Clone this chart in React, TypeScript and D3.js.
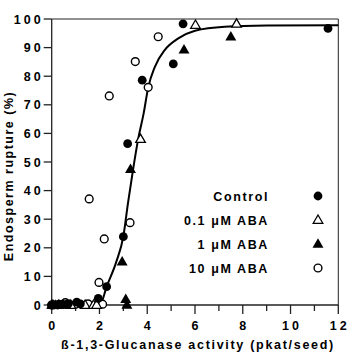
import * as d3 from 'd3'

// [activity (pkat/seed), rupture (%)]
const control: [number, number][] = [
  [0, 0], [0.1, 0], [0.25, 0], [0.45, 0.3], [0.7, 0.5], [1.05, 1], [1.2, 0.4],
  [1.95, 2.3], [2.3, 6.4], [3.0, 23.9], [3.18, 56.4], [3.79, 78.6], [5.09, 84.3],
  [5.5, 98.3], [11.57, 96.7],
]
const aba01: [number, number][] = [
  [0.05, 0], [0.3, 0], [0.8, 0], [1.4, 0], [1.75, 0], [1.88, 0], [3.72, 58],
  [6.02, 97.9], [7.74, 98.3],
]
const aba1: [number, number][] = [
  [0, 0], [0.15, 0], [0.6, 0], [2.95, 15.1], [3.1, 2.0], [3.15, 0], [3.3, 47.4],
  [5.54, 89.2], [7.5, 93.8],
]
const aba10: [number, number][] = [
  [0, 0], [0.3, 0.2], [0.57, 0.8], [1.0, 0.3], [1.52, 0.4], [1.57, 37.1], [1.98, 7.9],
  [2.13, 0.3], [2.2, 23.1], [2.41, 73.1], [3.28, 28.8], [3.5, 85.1], [4.04, 76.1],
  [4.46, 93.8],
]
// fitted curve, traced
const fitX = [0, 1.8, 2.05, 2.3, 2.7, 3.0, 3.2, 3.4, 3.62, 3.85, 4.04, 4.32, 4.74, 5.3, 6.0, 7.25, 9, 12]
const fitY = [0, 0, 0.5, 6.4, 15, 24, 36, 47, 58, 67, 76, 83.3, 89.2, 93.2, 95.9, 97.3, 97.7, 97.8]

const legendLabels = ['Control', '0.1 μM ABA', '1 μM ABA', '10 μM ABA']
const xTicks = d3.range(0, 13, 1)
const yTicks = d3.range(0, 101, 10)

const font = '"Liberation Sans", Arial, sans-serif'

type Kind = 'fc' | 'ot' | 'ft' | 'oc'

function Marker({ kind, x, y }: { kind: Kind; x: number; y: number }) {
  if (kind === 'fc' || kind === 'oc') {
    return (
      <circle cx={x} cy={y} r={kind === 'fc' ? 4.4 : 3.9}
        fill={kind === 'fc' ? '#000' : '#fff'} stroke="#000" strokeWidth={kind === 'fc' ? 0 : 1.4} />
    )
  }
  const path = d3.symbol(d3.symbolTriangle, kind === 'ft' ? 52 : 40)() as string
  return (
    <path d={path} transform={`translate(${x},${y + 0.5})`}
      fill={kind === 'ft' ? '#000' : '#fff'} stroke="#000" strokeWidth={kind === 'ft' ? 0 : 1.3} />
  )
}

export default function App() {
  const width = 359
  const height = 363
  const x = d3.scaleLinear().domain([0, 12]).range([51.7, 338.3])
  const y = d3.scaleLinear().domain([0, 100]).range([305, 19])

  const line = d3.line<number>()
    .x((_, i) => x(fitX[i]))
    .y((d) => y(d))
    .curve(d3.curveMonotoneX)

  const series: { kind: Kind; data: [number, number][] }[] = [
    { kind: 'oc', data: aba10 },
    { kind: 'ot', data: aba01 },
    { kind: 'ft', data: aba1 },
    { kind: 'fc', data: control },
  ]
  const legendKinds: Kind[] = ['fc', 'ot', 'ft', 'oc']

  return (
    <svg width={width} height={height} style={{ position: 'absolute', left: 0, top: 0 }}
      fontFamily={font} fontWeight="bold">
      <rect width={width} height={height} fill="#fff" />

      {/* frame */}
      <line x1={x(0)} x2={x(12)} y1={y(100)} y2={y(100)} stroke="#222" strokeWidth={1} />
      <line x1={x(12)} x2={x(12)} y1={y(100)} y2={y(0)} stroke="#222" strokeWidth={1} />
      <line x1={x(0)} x2={x(12)} y1={y(0)} y2={y(0)} stroke="#222" strokeWidth={1.3} />
      <line x1={x(0)} x2={x(0)} y1={y(100)} y2={y(0)} stroke="#222" strokeWidth={1.3} />

      {/* y axis */}
      {yTicks.map((t) => (
        <g key={'y' + t}>
          <line x1={x(0) - 8} x2={x(0)} y1={y(t)} y2={y(t)} stroke="#222" strokeWidth={1.3} />
          <text x={x(0) - 8} y={y(t)} dy="0.36em" textAnchor="end" fontSize={12.5}
            letterSpacing={3} style={{ whiteSpace: 'pre' }}>{t}</text>
        </g>
      ))}

      {/* x axis */}
      {xTicks.map((t) => (
        <g key={'x' + t}>
          <line x1={x(t)} x2={x(t)} y1={y(0)} y2={y(0) + (t % 2 === 0 ? 9 : 6)} stroke="#222" strokeWidth={1.3} />
          {t % 2 === 0 && (
            <text x={x(t) + 1.5} y={330} textAnchor="middle" fontSize={12.5} letterSpacing={3}>{t}</text>
          )}
        </g>
      ))}

      <text x={(x(0) + x(12)) / 2 + 3} y={349} textAnchor="middle" fontSize={12.5} letterSpacing={1.7}>
        ß-1,3-Glucanase activity (pkat/seed)
      </text>
      <text transform="translate(13,176) rotate(-90)" textAnchor="middle" fontSize={12.5} letterSpacing={1.5}>
        Endosperm rupture (%)
      </text>

      {/* fitted curve */}
      <path d={line(fitY) as string} fill="none" stroke="#000" strokeWidth={2} />

      {/* points */}
      {series.map((s) =>
        s.data.map((d, i) => <Marker key={s.kind + i} kind={s.kind} x={x(d[0])} y={y(d[1])} />),
      )}

      {/* legend */}
      {legendLabels.map((lab, i) => (
        <g key={lab}>
          <text x={269} y={196 + i * 24} dy="0.36em" textAnchor="end" fontSize={12.5} letterSpacing={1.6}>
            {lab}
          </text>
          <Marker kind={legendKinds[i]} x={318} y={196 + i * 24} />
        </g>
      ))}
    </svg>
  )
}
